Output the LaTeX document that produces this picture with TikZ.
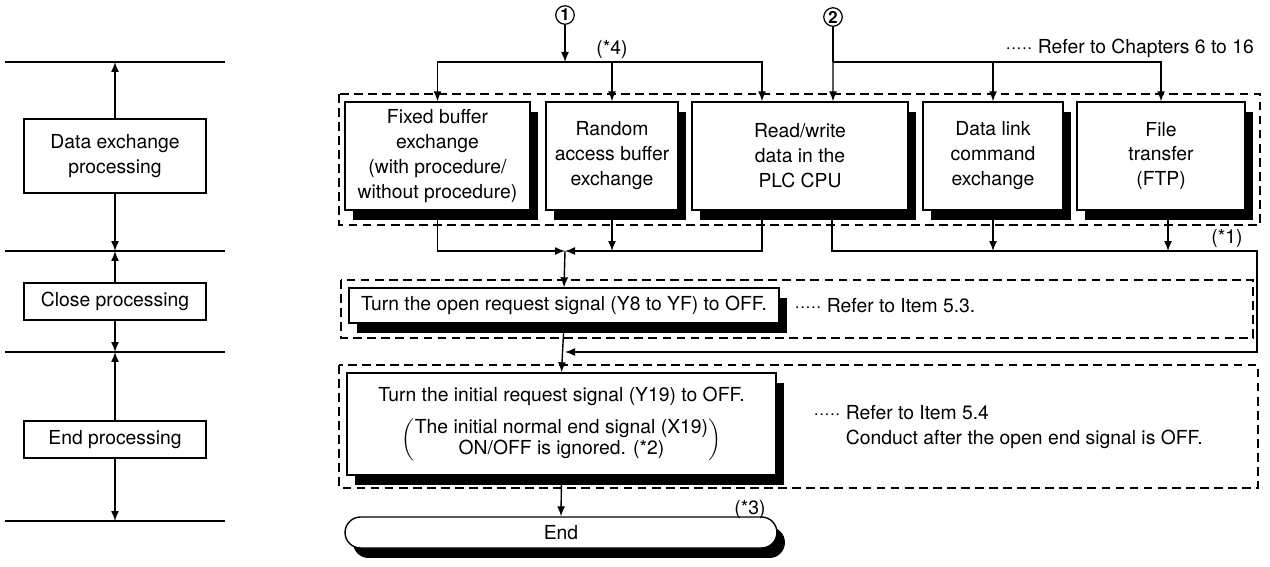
\documentclass[tikz,border=0pt]{standalone}
\usepackage{fontspec}
\setmainfont{TeX Gyre Heros}
\usetikzlibrary{arrows.meta, shadows}

\newcommand{\refdots}{·····\ }

\tikzset{
  procbox/.style={draw, fill=white, line width=0.8pt, align=center, inner sep=2pt,
    drop shadow={shadow xshift=0.16cm, shadow yshift=-0.2cm, fill=black, opacity=1}},
  phasebox/.style={draw, fill=white, line width=0.8pt, align=center, minimum width=3.64cm, minimum height=0.74cm},
  groupbox/.style={draw, dash pattern=on 5pt off 3pt, line width=0.6pt},
  note/.style={anchor=west, inner sep=0pt, align=left},
  numcircle/.style={draw, circle, line width=0.7pt, minimum size=0.37cm, inner sep=0pt, font=\fontsize{9.5}{10}\selectfont\bfseries},
}

\begin{document}
\begin{tikzpicture}[x=0.02cm, y=-0.02cm, >={Latex[length=2mm,width=1.6mm]}, line width=0.8pt,
    font=\fontsize{11}{14.2}\selectfont]
    \useasboundingbox (0,0) rectangle (1270,567);

    % phases on the left
    \foreach \ly in {62,251,352,521}
        \draw (5,\ly) -- (225,\ly);
    \node [phasebox, minimum height=1.48cm] (data) at (115,156) {Data exchange\\processing};
    \node [phasebox] (close) at (115,301.5) {Close processing};
    \node [phasebox] (endp) at (115,439.5) {End processing};
    \coordinate (l1) at (115,62);
    \coordinate (l2) at (115,251);
    \coordinate (l3) at (115,352);
    \coordinate (l4) at (115,521);
    \draw [->] (data) -- (l1);
    \draw [->] (data) -- (l2);
    \draw [->] (close) -- (l2);
    \draw [->] (close) -- (l3);
    \draw [->] (endp) -- (l3);
    \draw [->] (endp) -- (l4);

    % dashed groups
    \draw [groupbox] (339,94) rectangle (1260,225);
    \draw [groupbox] (341,280) rectangle (1253,338);
    \draw [groupbox] (339,365) rectangle (1258,488);

    % data exchange functions
    \node [procbox, minimum width=3.7cm, minimum height=2.16cm] (fixed) at (437.5,156) {Fixed buffer\\exchange\\(with procedure/\\without procedure)};
    \node [procbox, minimum width=2.64cm, minimum height=2.16cm] (random) at (612,156) {Random\\access buffer\\exchange};
    \node [procbox, minimum width=4.32cm, minimum height=2.16cm] (rw) at (800,156) {Read/write\\data in the\\PLC CPU};
    \node [procbox, minimum width=2.8cm, minimum height=2.16cm] (dlink) at (993,156) {Data link\\command\\exchange};
    \node [procbox, minimum width=3.36cm, minimum height=2.16cm] (ftp) at (1161,156) {File\\transfer\\(FTP)};

    % closing steps
    \node [procbox, minimum width=8.6cm, minimum height=0.7cm] (open) at (564,305.5) {Turn the open request signal (Y8 to YF) to OFF.};
    \node [procbox, minimum width=8.58cm, minimum height=2.04cm] (init) at (561.5,424)
        {Turn the initial request signal (Y19) to OFF.\\[6pt]
         \renewcommand{\arraystretch}{0.85}%
         $\left(\begin{tabular}{@{}c@{}}The initial normal end signal (X19)\\ON/OFF is ignored. (*2)\end{tabular}\right)$};
    \node [procbox, rounded corners=0.31cm, minimum width=8.64cm, minimum height=0.62cm] (endt) at (561,532.5) {End};

    % entry points
    \node [numcircle] (c1) at (565,15) {1};
    \node [numcircle] (c2) at (833,17) {2};
    \coordinate (bus1) at (565,62);
    \coordinate (bus2) at (833,62);
    \draw [->] (c1) -- (bus1);
    \draw [->] (bus1) -| (fixed.north);
    \draw [->] (bus1) -| ([xshift=-0.76cm]rw.north);
    \draw [->] (random.north |- bus1) -- (random.north);
    \draw (c2) -- (bus2);
    \draw [->] (bus2) -- ([xshift=0.66cm]rw.north);
    \draw [->] (bus2) -| (ftp.north);
    \draw [->] (dlink.north |- bus2) -- (dlink.north);

    % exits
    \coordinate (m1) at (565,251);
    \coordinate (m2) at (1257,251);
    \coordinate (m3) at (565,352);
    \draw [->] (fixed.south) |- (m1);
    \draw [->] ([xshift=-0.76cm]rw.south) |- (m1);
    \draw [->] (random.south) -- (random.south |- m1);
    \draw [->] ([xshift=0.64cm]rw.south) |- (m2) |- (m3);
    \draw [->] (dlink.south) -- (dlink.south |- m2);
    \draw [->] ([xshift=0.14cm]ftp.south) -- ([xshift=0.14cm]ftp.south |- m2);
    \draw [->] (m1) -- (open.north);
    \draw [->] (open.south) -- (init.north);
    \draw [->] (init.south) -- (endt.north);

    % remarks
    \node at (612,50) {(*4)};
    \node at (1227,239) {(*1)};
    \node at (750,510) {(*3)};
    \node [note] (ref1) at (1005,48) {\refdots Refer to Chapters 6 to 16};
    \node [note] (ref2) at (794,306) {\refdots Refer to Item 5.3.};
    \node [note] (ref3) at (813,427) {\refdots Refer to Item 5.4\\\hphantom{\refdots}Conduct after the open end signal is OFF.};
\end{tikzpicture}
\end{document}
